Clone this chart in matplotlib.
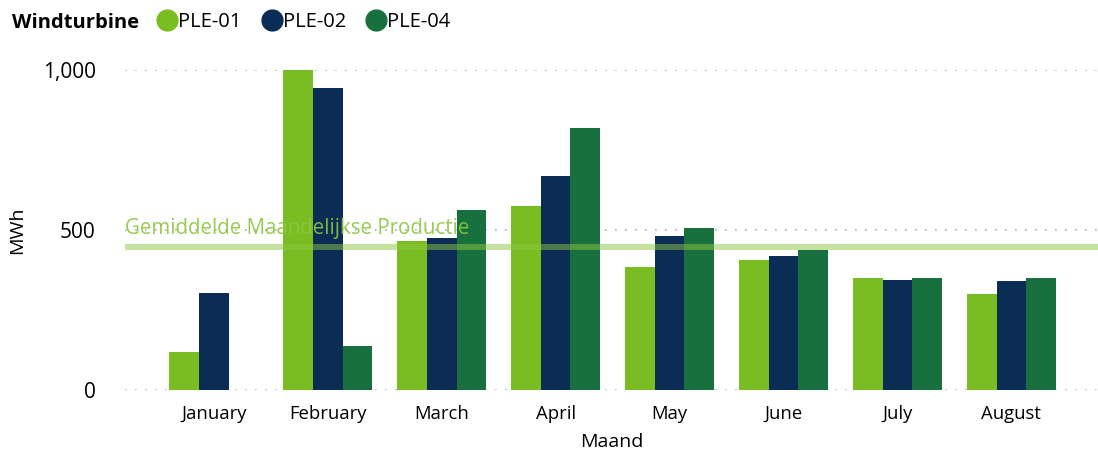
import matplotlib.pyplot as plt
import numpy as np

plt.rcParams['font.family'] = ['Open Sans', 'DejaVu Sans']

# data (MWh)
maanden = ['January', 'February', 'March', 'April', 'May', 'June', 'July', 'August']
ple01 = [119, 1000, 466, 575, 384, 406, 350, 300]
ple02 = [303, 944, 475, 669, 481, 419, 344, 341]
ple04 = [0, 137, 563, 819, 506, 438, 350, 350]
gemiddelde = 447

series = [('PLE-01', ple01, '#7abd22'),
          ('PLE-02', ple02, '#0b2d55'),
          ('PLE-04', ple04, '#18703e')]

fig = plt.figure(figsize=(10.98, 4.51), dpi=100)
ax = fig.add_axes([0.1138, 0.1353, 0.8862, 0.7095])

x = np.arange(len(maanden))
w = 0.26
for i, (naam, vals, kleur) in enumerate(series):
    ax.bar(x + (i - 1) * w, vals, width=w, color=kleur, label=naam, zorder=2)

# gemiddelde lijn
ax.axhline(gemiddelde, color='#8cc63f', alpha=0.5, lw=4.3, zorder=3)
ax.text(-0.78, gemiddelde + 25, 'Gemiddelde Maandelijkse Productie', color='#8cc63f',
        alpha=0.9, fontsize=14.8, ha='left', va='bottom', zorder=4)

ax.set_xlim(-0.78, 7.76)
ax.set_ylim(0, 1000)
ax.set_yticks([0, 500, 1000])
ax.set_yticklabels(['0', '500', '1,000'], fontsize=15)
ax.set_xticks(x)
ax.set_xticklabels(maanden, fontsize=13.3)
ax.tick_params(length=0)
ax.tick_params(axis='y', pad=21)
ax.tick_params(axis='x', pad=11)
ax.grid(axis='y', color='#b0b0b0', linestyle=(0, (1, 5)), lw=1.2, zorder=0)
ax.set_axisbelow(True)
for s in ax.spines.values():
    s.set_visible(False)

ax.set_xlabel('Maand', fontsize=14, labelpad=7)
ax.set_ylabel('MWh', fontsize=14, labelpad=12)

# legenda bovenaan
fig.text(0.011, 0.95, 'Windturbine', fontsize=14.5, fontweight='bold', va='center')
leg = fig.legend(handles=[plt.Line2D([], [], marker='o', ls='', ms=15, color=k) for _, _, k in series],
                 labels=[n for n, _, _ in series], loc='center left',
                 bbox_to_anchor=(0.142, 0.952), ncol=3, frameon=False, fontsize=14.5,
                 handletextpad=0.0, columnspacing=0.95, handlelength=1.1,
                 borderpad=0, borderaxespad=0)

fig.savefig('out.png', dpi=100)
